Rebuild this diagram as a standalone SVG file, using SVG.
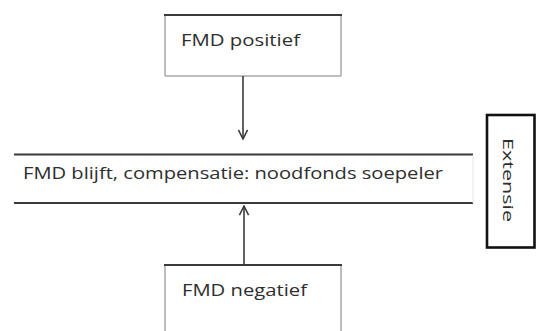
<svg xmlns="http://www.w3.org/2000/svg" width="538" height="331" viewBox="0 0 538 331">
  <defs>
    <style>
      .edge-strong { stroke: #3a3a3a; stroke-width: 2; fill: none; }
      .edge-soft { stroke: #a8a8a8; stroke-width: 1.5; fill: none; }
      .label { font-family: "Open Sans", "Liberation Sans", "DejaVu Sans", sans-serif; fill: #2e2e2e; }
      .conn { stroke: #3a3a3a; stroke-width: 1.6; fill: none; }
    </style>
    <marker id="open-arrow" viewBox="0 0 12 12" refX="11" refY="6" markerWidth="11" markerHeight="11" markerUnits="userSpaceOnUse" orient="auto">
      <path d="M1,1 L11,6 L1,11" fill="none" stroke="#3a3a3a" stroke-width="1.7"/>
    </marker>
  </defs>
  <rect width="538" height="331" fill="#ffffff"/>

  <!-- top node -->
  <g id="fmd-positief">
    <line class="edge-soft" x1="165" y1="16" x2="165" y2="76"/>
    <line class="edge-soft" x1="341" y1="16" x2="341" y2="76"/>
    <line class="edge-soft" x1="165" y1="76" x2="341" y2="76" stroke="#d8d8d8"/>
    <line class="edge-strong" x1="164" y1="15" x2="342" y2="15"/>
    <text class="label" x="181" y="46" font-size="17" textLength="119" lengthAdjust="spacingAndGlyphs">FMD positief</text>
  </g>

  <!-- central band -->
  <g id="fmd-blijft">
    <line class="edge-strong" x1="14" y1="154.5" x2="473" y2="154.5" stroke="#555"/>
    <line class="edge-strong" x1="14" y1="203" x2="473" y2="203" stroke="#555"/>
    <line x1="473" y1="155" x2="473" y2="203" stroke="#e4e4e4" stroke-width="1"/>
    <text class="label" x="23" y="179" font-size="17" textLength="420" lengthAdjust="spacingAndGlyphs">FMD blijft, compensatie: noodfonds soepeler</text>
  </g>

  <!-- bottom node -->
  <g id="fmd-negatief">
    <line class="edge-soft" x1="165" y1="265" x2="165" y2="331"/>
    <line class="edge-soft" x1="341" y1="265" x2="341" y2="331"/>
    <line class="edge-strong" x1="164" y1="265" x2="342" y2="265"/>
    <text class="label" x="182" y="296" font-size="17" textLength="125" lengthAdjust="spacingAndGlyphs">FMD negatief</text>
  </g>

  <!-- side tag -->
  <g id="extensie">
    <rect x="487" y="115" width="47.5" height="132.5" fill="#ffffff" stroke="#111" stroke-width="2.6"/>
    <text class="label" transform="translate(503 138) rotate(90)" font-size="14" textLength="84" lengthAdjust="spacingAndGlyphs">Extensie</text>
  </g>

  <!-- connectors -->
  <g id="connectors">
    <line class="conn" x1="243" y1="76" x2="243" y2="139" marker-end="url(#open-arrow)"/>
    <line class="conn" x1="244" y1="265" x2="244" y2="206" marker-end="url(#open-arrow)"/>
  </g>
</svg>
